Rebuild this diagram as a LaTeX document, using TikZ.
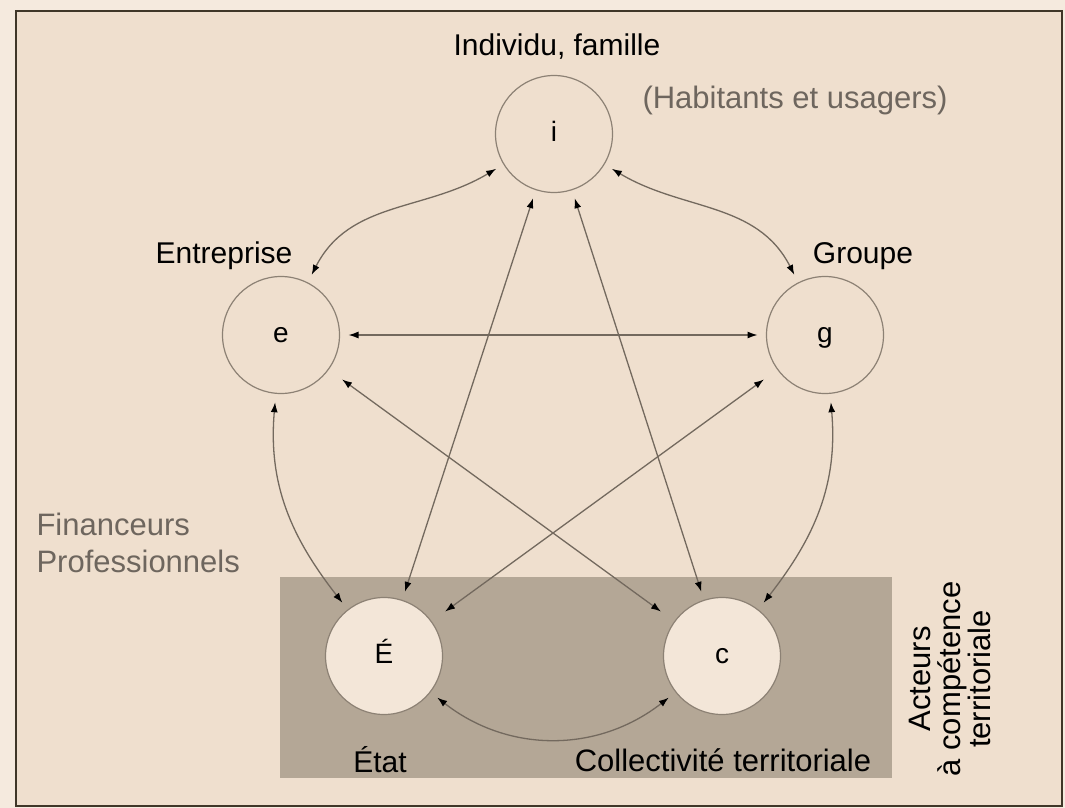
\documentclass[tikz,border=0pt]{standalone}
\usepackage{fontspec}
\setmainfont{Liberation Sans}
\usetikzlibrary{arrows.meta}
\definecolor{marge}{HTML}{F5EADE}
\definecolor{fond}{HTML}{EFDFCE}
\definecolor{cadre}{HTML}{3F3628}
\definecolor{zone}{HTML}{B4A796}
\definecolor{bulle}{HTML}{F3E6D8}
\definecolor{trait}{HTML}{8C8174}
\definecolor{fleche}{HTML}{73695E}
\definecolor{gristexte}{HTML}{6E665E}

\begin{document}
\begin{tikzpicture}[x=1pt,y=-1pt,
    acteur/.style={circle,draw=trait,line width=1.2pt,minimum size=117pt,
      inner sep=0pt,outer sep=9pt,text height=15pt,text depth=0pt,
      font=\fontsize{28}{30}\selectfont},
    lien/.style={draw=fleche,line width=1.3pt,
      {Latex[length=10pt,width=7pt,color=black]}-{Latex[length=10pt,width=7pt,color=black]}},
    titre/.style={font=\fontsize{30}{32}\selectfont},
    note/.style={font=\fontsize{31}{37}\selectfont,text=gristexte,align=left}]
    % fond et cadre
    \fill[marge] (0,0) rectangle (1065,808);
    \draw[cadre,line width=2.5pt,fill=fond] (16,11) rectangle (1062,806);
    \fill[zone] (280,577) rectangle (892,778);
    % acteurs
    \node[acteur] (i) at (554,134) {i};
    \node[acteur] (e) at (281,335) {e};
    \node[acteur] (g) at (825,335) {g};
    \node[acteur,fill=bulle] (E) at (384,656) {É};
    \node[acteur,fill=bulle] (c) at (722,656) {c};
    % textes
    \node[titre] (ti) at (557,47) {Individu, famille};
    \node[note] (th) at (795,100) {(Habitants et usagers)};
    \node[titre] (te) at (224,256) {Entreprise};
    \node[titre] (tg) at (863,256) {Groupe};
    \node[note,anchor=west] (tf) at (33,543) {Financeurs\\Professionnels};
    \node[titre] (tE) at (380,760) {État};
    \node[titre,font=\fontsize{31}{32}\selectfont] (tc) at (723,760) {Collectivité territoriale};
    \node[titre,rotate=90,align=center,font=\fontsize{31}{30}\selectfont] (ta) at (950,679)
      {Acteurs\\à compétence\\territoriale};
    % liens
    \draw[lien] (i) to[out=211,in=63] (e);
    \draw[lien] (i) to[out=-31,in=117] (g);
    \draw[lien] (e) -- (g);
    \draw[lien] (i) -- (E);
    \draw[lien] (i) -- (c);
    \draw[lien,shorten <=8pt,shorten >=8pt] (e) -- (c);
    \draw[lien,shorten <=8pt,shorten >=8pt] (g) -- (E);
    \draw[lien] (e) to[out=-95,in=128] (E);
    \draw[lien] (g) to[out=-85,in=52] (c);
    \draw[lien] (E) to[out=-38,in=218] (c);
\end{tikzpicture}
\end{document}
